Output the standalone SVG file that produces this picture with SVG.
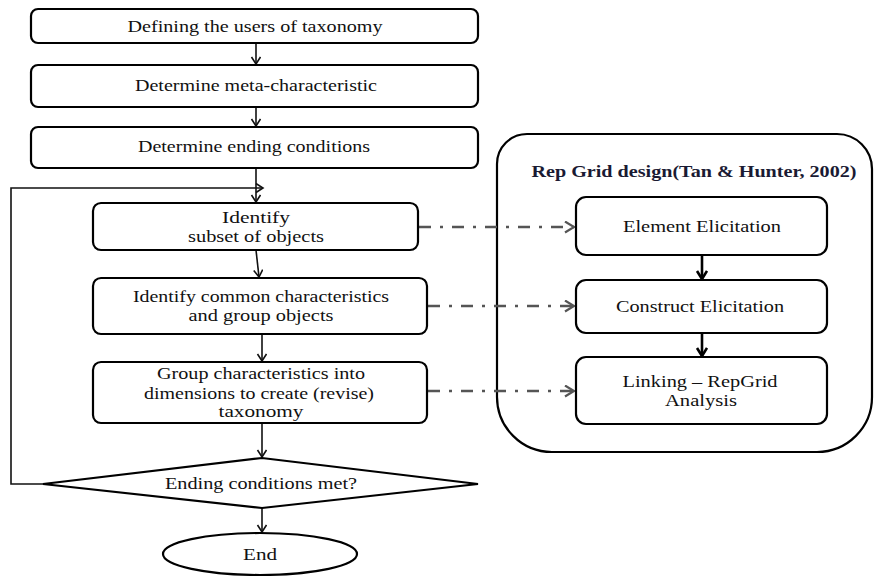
<svg xmlns="http://www.w3.org/2000/svg" width="875" height="576" viewBox="0 0 875 576">
<defs>
<style>
.box{fill:#fff;stroke:#000;stroke-width:2.2}
.t{font-family:"Liberation Serif","Times New Roman",serif;font-size:16px;fill:#111;text-anchor:middle}
.title{font-weight:bold;fill:#1a1a33}
.ln{fill:none;stroke:#111;stroke-width:1.6}
.thick{fill:none;stroke:#000;stroke-width:2.6}
.dd{fill:none;stroke:#555;stroke-width:2.6;stroke-dasharray:12 9 3 9}
</style>
<marker id="a" markerUnits="userSpaceOnUse" markerWidth="14" markerHeight="14" refX="8" refY="5" orient="auto">
<path d="M1,0.5 L8,5 L1,9.5" fill="none" stroke="#111" stroke-width="1.6"/>
</marker>
<marker id="ab" markerUnits="userSpaceOnUse" markerWidth="16" markerHeight="16" refX="9" refY="6" orient="auto">
<path d="M1,1 L9,6 L1,11" fill="none" stroke="#000" stroke-width="2.6"/>
</marker>
<marker id="ad" markerUnits="userSpaceOnUse" markerWidth="16" markerHeight="16" refX="10" refY="6" orient="auto">
<path d="M1,0.5 L10,6 L1,11.5" fill="none" stroke="#555" stroke-width="2.2"/>
</marker>
</defs>

<g id="container">
<path d="M527,134 H837 A35,35 0 0 1 872,169 V397 A55,55 0 0 1 817,452 H552 A55,55 0 0 1 497,397 V164 A30,30 0 0 1 527,134 Z" fill="none" stroke="#000" stroke-width="2.2"/>
<text class="t title" x="694" y="177" textLength="325" lengthAdjust="spacingAndGlyphs">Rep Grid design(Tan &amp; Hunter, 2002)</text>
</g>

<g id="connectors">
<line class="ln" x1="256" y1="43" x2="256" y2="64" marker-end="url(#a)"/>
<line class="ln" x1="256" y1="107" x2="256" y2="126" marker-end="url(#a)"/>
<line class="ln" x1="256" y1="168" x2="256" y2="202" marker-end="url(#a)"/>
<polyline class="ln" points="43,484 11,484 11,188 263,188" marker-end="url(#a)" stroke-width="2"/>
<line class="ln" x1="256" y1="250" x2="259" y2="277" marker-end="url(#a)"/>
<line class="ln" x1="262" y1="334" x2="262" y2="361" marker-end="url(#a)"/>
<line class="ln" x1="262" y1="423" x2="262" y2="457" marker-end="url(#a)"/>
<line class="ln" x1="262" y1="508" x2="262" y2="532" marker-end="url(#a)"/>
<line class="thick" x1="702" y1="255" x2="702" y2="279" marker-end="url(#ab)"/>
<line class="thick" x1="702" y1="333" x2="702" y2="356" marker-end="url(#ab)"/>
<line class="dd" x1="419" y1="227" x2="574" y2="227" marker-end="url(#ad)"/>
<line class="dd" x1="428" y1="306" x2="574" y2="306" marker-end="url(#ad)"/>
<line class="dd" x1="428" y1="391" x2="574" y2="391" marker-end="url(#ad)"/>
</g>

<g id="n1">
<rect class="box" x="31" y="9" width="447" height="34" rx="7"/>
<text class="t" x="255" y="32" textLength="255" lengthAdjust="spacingAndGlyphs">Defining the users of taxonomy</text>
</g>
<g id="n2">
<rect class="box" x="31" y="65" width="447" height="42" rx="7"/>
<text class="t" x="256" y="91" textLength="242" lengthAdjust="spacingAndGlyphs">Determine meta-characteristic</text>
</g>
<g id="n3">
<rect class="box" x="31" y="127" width="447" height="41" rx="7"/>
<text class="t" x="254" y="152" textLength="232" lengthAdjust="spacingAndGlyphs">Determine ending conditions</text>
</g>
<g id="n4">
<rect class="box" x="93" y="203" width="325" height="47" rx="8"/>
<text class="t" x="256" y="223" textLength="68" lengthAdjust="spacingAndGlyphs">Identify</text>
<text class="t" x="256" y="242" textLength="136" lengthAdjust="spacingAndGlyphs">subset of objects</text>
</g>
<g id="n5">
<rect class="box" x="93" y="278" width="334" height="56" rx="8"/>
<text class="t" x="261" y="302" textLength="256" lengthAdjust="spacingAndGlyphs">Identify common characteristics</text>
<text class="t" x="261" y="321" textLength="145" lengthAdjust="spacingAndGlyphs">and group objects</text>
</g>
<g id="n6">
<rect class="box" x="93" y="362" width="334" height="61" rx="8"/>
<text class="t" x="261" y="379" textLength="208" lengthAdjust="spacingAndGlyphs">Group characteristics into</text>
<text class="t" x="259" y="399" textLength="230" lengthAdjust="spacingAndGlyphs">dimensions to create (revise)</text>
<text class="t" x="261" y="417" textLength="85" lengthAdjust="spacingAndGlyphs">taxonomy</text>
</g>
<g id="n7">
<polygon class="box" points="43,484 262,458 478,484 262,508"/>
<text class="t" x="261" y="489" textLength="192" lengthAdjust="spacingAndGlyphs">Ending conditions met?</text>
</g>
<g id="n8">
<ellipse class="box" cx="260" cy="554" rx="97" ry="21"/>
<text class="t" x="260" y="560" textLength="34" lengthAdjust="spacingAndGlyphs">End</text>
</g>
<g id="r1">
<rect class="box" x="576" y="197" width="251" height="58" rx="10"/>
<text class="t" x="702" y="232" textLength="158" lengthAdjust="spacingAndGlyphs">Element Elicitation</text>
</g>
<g id="r2">
<rect class="box" x="576" y="280" width="251" height="53" rx="10"/>
<text class="t" x="700" y="312" textLength="168" lengthAdjust="spacingAndGlyphs">Construct Elicitation</text>
</g>
<g id="r3">
<rect class="box" x="576" y="357" width="251" height="67" rx="10"/>
<text class="t" x="700" y="387" textLength="155" lengthAdjust="spacingAndGlyphs">Linking – RepGrid</text>
<text class="t" x="701" y="406" textLength="72" lengthAdjust="spacingAndGlyphs">Analysis</text>
</g>
</svg>
